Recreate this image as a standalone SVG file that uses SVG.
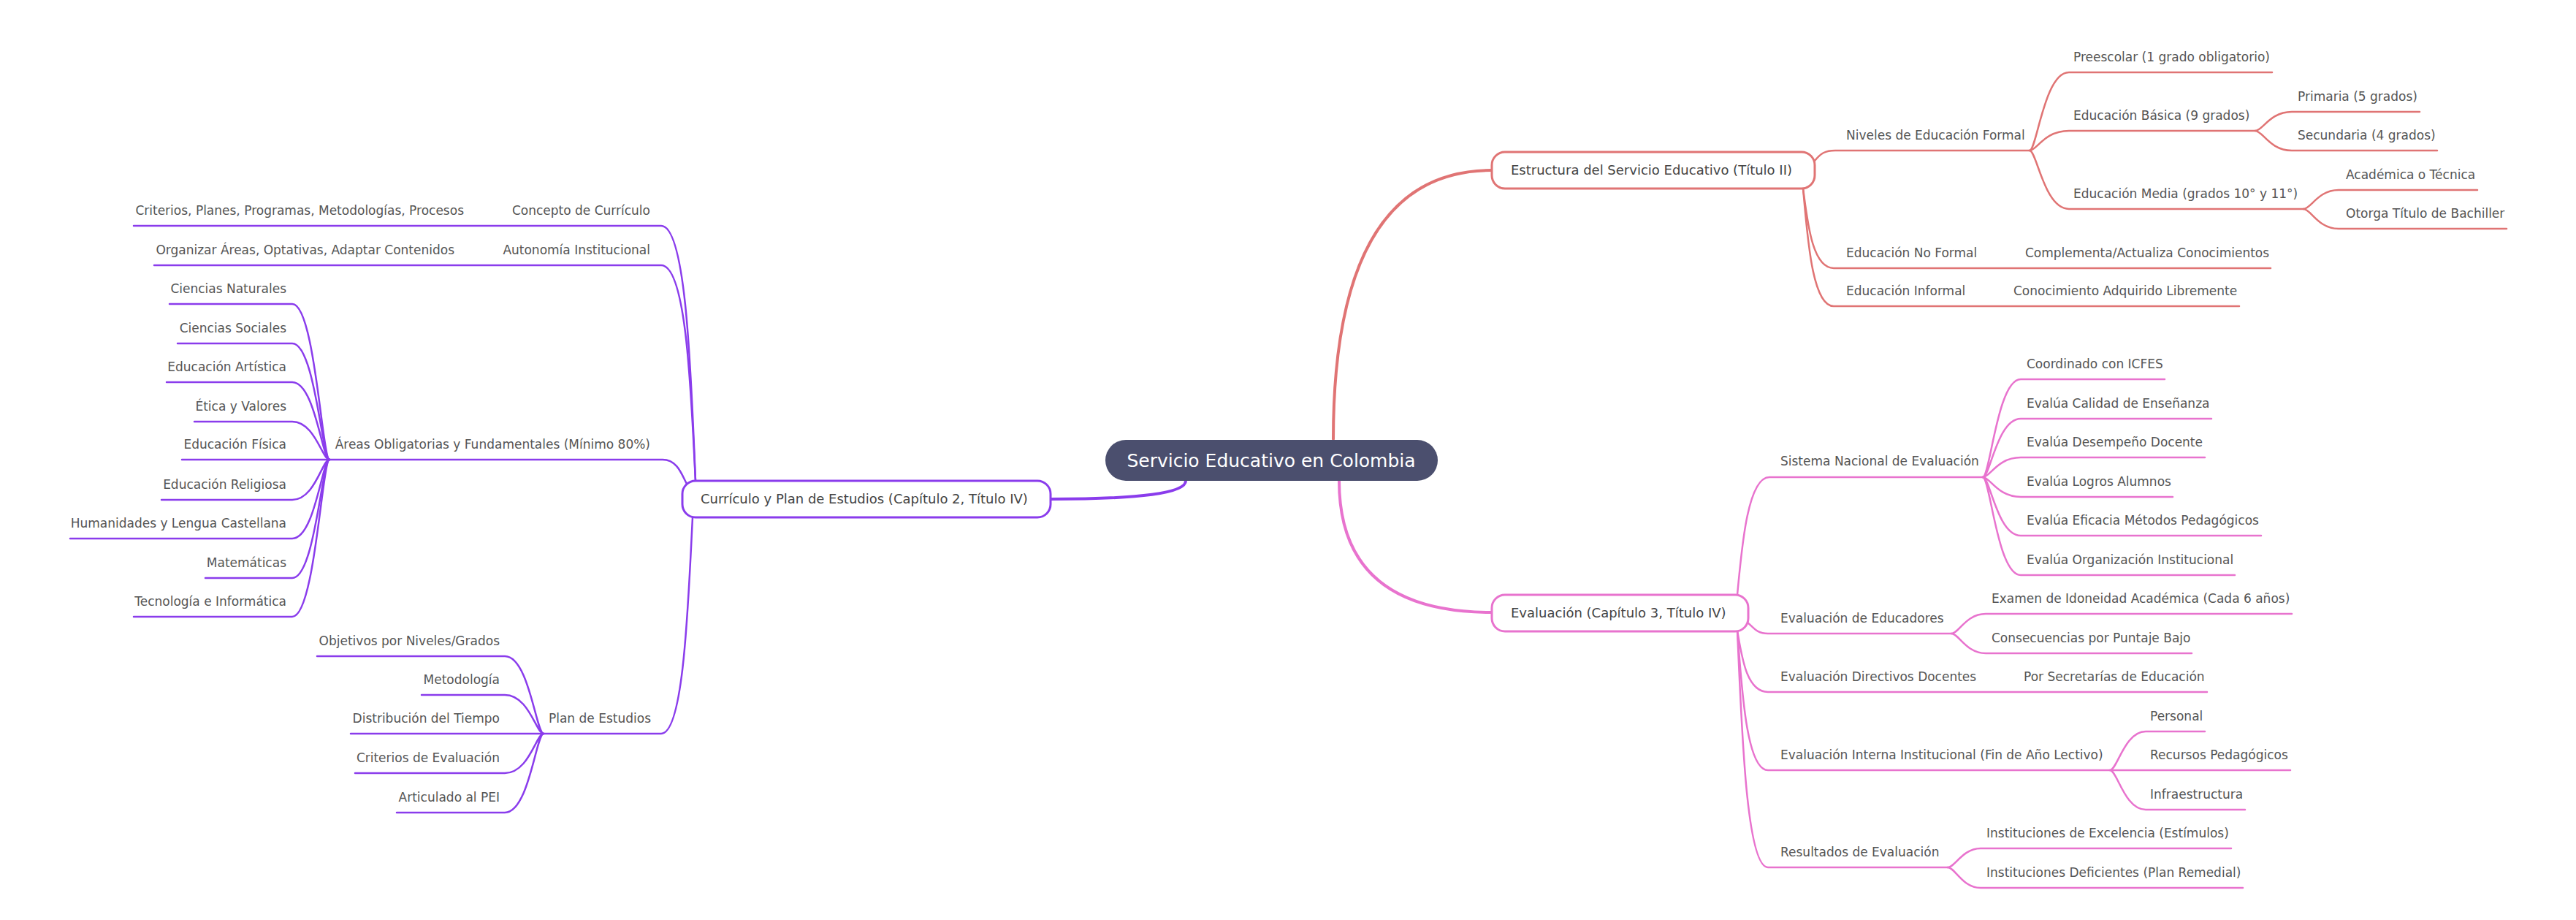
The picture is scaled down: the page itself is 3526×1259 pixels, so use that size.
<svg xmlns="http://www.w3.org/2000/svg" width="3526" height="1259" viewBox="0 0 3526 1259">
<style>
.bg{fill:#ffffff}
.e{fill:none;stroke-width:2.5;stroke-linecap:round}
.m{fill:none;stroke-width:4;stroke-linecap:round}
.red{stroke:#E07474}
.pink{stroke:#E873CE}
.pur{stroke:#8A3CEC}
.t{font-family:'DejaVu Sans','Noto Sans',sans-serif;font-size:17px;fill:#555555}
.l{text-anchor:end}
.tp{font-family:'DejaVu Sans','Noto Sans',sans-serif;font-size:18px;fill:#444444}
.box{fill:#ffffff;stroke-width:3}
.root{fill:#4B4F6E}
.rt{font-family:'DejaVu Sans','Noto Sans',sans-serif;font-size:25px;fill:#ffffff;text-anchor:middle}
</style>
<rect class="bg" x="0" y="0" width="3526" height="1259"/>
<g id="connectors">
  <!-- root to topics -->
  <path class="m red" d="M 1825 601 Q 1825 233 2042 233"/>
  <path class="m pink" d="M 1833 658 Q 1833 838 2042 838"/>
  <path class="m pur" d="M 1623 658 Q 1623 683 1438 683"/>
  <!-- Estructura -->
  <path class="e red" d="M 2484 220 C 2492 210, 2498 206, 2512 206 H 2778"/>
  <path class="e red" d="M 2468 258 C 2474 302, 2480 367, 2510 367 H 3108"/>
  <path class="e red" d="M 2468 258 C 2474 322, 2480 419, 2510 419 H 3065"/>
  <path class="e red" d="M 2778 206 C 2788 206, 2798 99, 2832 99 H 3110"/>
  <path class="e red" d="M 2778 206 C 2788 206, 2798 179, 2832 179 H 3087"/>
  <path class="e red" d="M 2778 206 C 2788 206, 2798 286, 2832 286 H 3153"/>
  <path class="e red" d="M 3087 179 C 3097 179, 3107 153, 3137 153 H 3312"/>
  <path class="e red" d="M 3087 179 C 3097 179, 3107 206, 3137 206 H 3336"/>
  <path class="e red" d="M 3153 286 C 3163 286, 3173 260, 3201 260 H 3391"/>
  <path class="e red" d="M 3153 286 C 3163 286, 3173 313, 3201 313 H 3431"/>
  <!-- Evaluación -->
  <path class="e pink" d="M 2378 814 C 2384 750, 2392 653, 2422 653 H 2714"/>
  <path class="e pink" d="M 2392 852 C 2400 858, 2404 867, 2420 867 H 2671"/>
  <path class="e pink" d="M 2378 863 C 2384 897, 2390 947, 2420 947 H 3021"/>
  <path class="e pink" d="M 2378 863 C 2384 939, 2390 1054, 2420 1054 H 3135"/>
  <path class="e pink" d="M 2378 863 C 2384 993, 2390 1187, 2420 1187 H 2666"/>
  <path class="e pink" d="M 2714 653 C 2724 653, 2734 519, 2766 519 H 2963"/>
  <path class="e pink" d="M 2714 653 C 2724 653, 2734 573, 2766 573 H 3027"/>
  <path class="e pink" d="M 2714 653 C 2724 653, 2734 626, 2766 626 H 3018"/>
  <path class="e pink" d="M 2714 653 C 2724 653, 2734 680, 2766 680 H 2974"/>
  <path class="e pink" d="M 2714 653 C 2724 653, 2734 733, 2766 733 H 3095"/>
  <path class="e pink" d="M 2714 653 C 2724 653, 2734 787, 2766 787 H 3059"/>
  <path class="e pink" d="M 2671 867 C 2681 867, 2691 840, 2718 840 H 3137"/>
  <path class="e pink" d="M 2671 867 C 2681 867, 2691 894, 2718 894 H 3000"/>
  <path class="e pink" d="M 2888 1054 C 2898 1054, 2908 1001, 2937 1001 H 3018"/>
  <path class="e pink" d="M 2888 1054 C 2898 1054, 2908 1108, 2937 1108 H 3073"/>
  <path class="e pink" d="M 2666 1187 C 2676 1187, 2686 1161, 2711 1161 H 3054"/>
  <path class="e pink" d="M 2666 1187 C 2676 1187, 2686 1215, 2711 1215 H 3070"/>
  <!-- Currículo -->
  <path class="e pur" d="M 952 658 C 946 518, 940 309, 905 309 H 183"/>
  <path class="e pur" d="M 952 658 C 946 540, 940 363, 905 363 H 211"/>
  <path class="e pur" d="M 940 662 C 934 652, 928 629, 907 629 H 451"/>
  <path class="e pur" d="M 948 708 C 942 826, 936 1004, 905 1004 H 744"/>
  <path class="e pur" d="M 451 629 C 441 629, 431 416, 400 416 H 232"/>
  <path class="e pur" d="M 451 629 C 441 629, 431 470, 400 470 H 243"/>
  <path class="e pur" d="M 451 629 C 441 629, 431 523, 400 523 H 228"/>
  <path class="e pur" d="M 451 629 C 441 629, 431 577, 400 577 H 266"/>
  <path class="e pur" d="M 451 629 C 441 629, 431 629, 400 629 H 249"/>
  <path class="e pur" d="M 451 629 C 441 629, 431 684, 400 684 H 221"/>
  <path class="e pur" d="M 451 629 C 441 629, 431 737, 400 737 H 96"/>
  <path class="e pur" d="M 451 629 C 441 629, 431 791, 400 791 H 281"/>
  <path class="e pur" d="M 451 629 C 441 629, 431 844, 400 844 H 183"/>
  <path class="e pur" d="M 744 1004 C 734 1004, 724 898, 691 898 H 434"/>
  <path class="e pur" d="M 744 1004 C 734 1004, 724 951, 691 951 H 577"/>
  <path class="e pur" d="M 744 1004 C 734 1004, 724 1004, 691 1004 H 480"/>
  <path class="e pur" d="M 744 1004 C 734 1004, 724 1058, 691 1058 H 486"/>
  <path class="e pur" d="M 744 1004 C 734 1004, 724 1112, 691 1112 H 543"/>
</g>
<g id="root">
  <rect class="root" x="1513" y="602" width="455" height="56" rx="28"/>
  <text class="rt" x="1740" y="639">Servicio Educativo en Colombia</text>
</g>
<g id="estructura">
  <rect class="box red" x="2042" y="208" width="442" height="50" rx="18"/>
  <text class="tp" x="2068" y="239">Estructura del Servicio Educativo (Título II)</text>
</g>
<g id="n-niveles"><text class="t" x="2527" y="191">Niveles de Educación Formal</text></g>
<g id="n-preescolar"><text class="t" x="2838" y="84">Preescolar (1 grado obligatorio)</text></g>
<g id="n-basica"><text class="t" x="2838" y="164">Educación Básica (9 grados)</text></g>
<g id="n-primaria"><text class="t" x="3145" y="138">Primaria (5 grados)</text></g>
<g id="n-secundaria"><text class="t" x="3145" y="191">Secundaria (4 grados)</text></g>
<g id="n-media"><text class="t" x="2838" y="271">Educación Media (grados 10° y 11°)</text></g>
<g id="n-academica"><text class="t" x="3211" y="245">Académica o Técnica</text></g>
<g id="n-bachiller"><text class="t" x="3211" y="298">Otorga Título de Bachiller</text></g>
<g id="n-noformal"><text class="t" x="2527" y="352">Educación No Formal</text></g>
<g id="n-complementa"><text class="t" x="2772" y="352">Complementa/Actualiza Conocimientos</text></g>
<g id="n-informal"><text class="t" x="2527" y="404">Educación Informal</text></g>
<g id="n-conocimiento"><text class="t" x="2756" y="404">Conocimiento Adquirido Libremente</text></g>
<g id="evaluacion">
  <rect class="box pink" x="2042" y="814" width="351" height="50" rx="18"/>
  <text class="tp" x="2068" y="845">Evaluación (Capítulo 3, Título IV)</text>
</g>
<g id="n-sistema"><text class="t" x="2437" y="637">Sistema Nacional de Evaluación</text></g>
<g id="n-icfes"><text class="t" x="2774" y="504">Coordinado con ICFES</text></g>
<g id="n-calidad"><text class="t" x="2774" y="558">Evalúa Calidad de Enseñanza</text></g>
<g id="n-desempeno"><text class="t" x="2774" y="611">Evalúa Desempeño Docente</text></g>
<g id="n-logros"><text class="t" x="2774" y="665">Evalúa Logros Alumnos</text></g>
<g id="n-eficacia"><text class="t" x="2774" y="718">Evalúa Eficacia Métodos Pedagógicos</text></g>
<g id="n-organizacion"><text class="t" x="2774" y="772">Evalúa Organización Institucional</text></g>
<g id="n-educadores"><text class="t" x="2437" y="852">Evaluación de Educadores</text></g>
<g id="n-examen"><text class="t" x="2726" y="825">Examen de Idoneidad Académica (Cada 6 años)</text></g>
<g id="n-consecuencias"><text class="t" x="2726" y="879">Consecuencias por Puntaje Bajo</text></g>
<g id="n-directivos"><text class="t" x="2437" y="932">Evaluación Directivos Docentes</text></g>
<g id="n-secretarias"><text class="t" x="2770" y="932">Por Secretarías de Educación</text></g>
<g id="n-interna"><text class="t" x="2437" y="1039">Evaluación Interna Institucional (Fin de Año Lectivo)</text></g>
<g id="n-personal"><text class="t" x="2943" y="986">Personal</text></g>
<g id="n-recursos"><text class="t" x="2943" y="1039">Recursos Pedagógicos</text></g>
<g id="n-infra"><text class="t" x="2943" y="1093">Infraestructura</text></g>
<g id="n-resultados"><text class="t" x="2437" y="1172">Resultados de Evaluación</text></g>
<g id="n-excelencia"><text class="t" x="2719" y="1146">Instituciones de Excelencia (Estímulos)</text></g>
<g id="n-deficientes"><text class="t" x="2719" y="1200">Instituciones Deficientes (Plan Remedial)</text></g>
<g id="curriculo">
  <rect class="box pur" x="934" y="658" width="504" height="50" rx="18"/>
  <text class="tp" x="959" y="689">Currículo y Plan de Estudios (Capítulo 2, Título IV)</text>
</g>
<g id="n-concepto"><text class="t l" x="890" y="294">Concepto de Currículo</text></g>
<g id="n-criterios"><text class="t l" x="635" y="294">Criterios, Planes, Programas, Metodologías, Procesos</text></g>
<g id="n-autonomia"><text class="t l" x="890" y="348">Autonomía Institucional</text></g>
<g id="n-organizar"><text class="t l" x="622" y="348">Organizar Áreas, Optativas, Adaptar Contenidos</text></g>
<g id="n-areas"><text class="t l" x="890" y="614">Áreas Obligatorias y Fundamentales (Mínimo 80%)</text></g>
<g id="n-naturales"><text class="t l" x="392" y="401">Ciencias Naturales</text></g>
<g id="n-sociales"><text class="t l" x="392" y="455">Ciencias Sociales</text></g>
<g id="n-artistica"><text class="t l" x="392" y="508">Educación Artística</text></g>
<g id="n-etica"><text class="t l" x="392" y="562">Ética y Valores</text></g>
<g id="n-fisica"><text class="t l" x="392" y="614">Educación Física</text></g>
<g id="n-religiosa"><text class="t l" x="392" y="669">Educación Religiosa</text></g>
<g id="n-humanidades"><text class="t l" x="392" y="722">Humanidades y Lengua Castellana</text></g>
<g id="n-matematicas"><text class="t l" x="392" y="776">Matemáticas</text></g>
<g id="n-tecnologia"><text class="t l" x="392" y="829">Tecnología e Informática</text></g>
<g id="n-plan"><text class="t l" x="891" y="989">Plan de Estudios</text></g>
<g id="n-objetivos"><text class="t l" x="684" y="883">Objetivos por Niveles/Grados</text></g>
<g id="n-metodologia"><text class="t l" x="684" y="936">Metodología</text></g>
<g id="n-distribucion"><text class="t l" x="684" y="989">Distribución del Tiempo</text></g>
<g id="n-criteval"><text class="t l" x="684" y="1043">Criterios de Evaluación</text></g>
<g id="n-pei"><text class="t l" x="684" y="1097">Articulado al PEI</text></g>
</svg>
